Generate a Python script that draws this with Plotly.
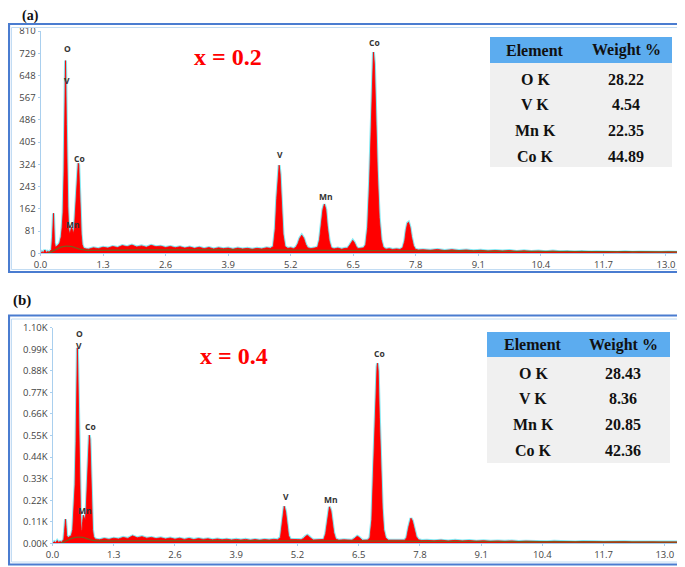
import plotly.graph_objects as go

W, H = 685, 567
PAGE_OFFSET = 8  # the page body margin shifts the figure by this many pixels

# ---------------- data : panel (a)  x = 0.2 ----------------
energy_a = [0.00, 0.03, 0.06, 0.09, 0.12, 0.15, 0.18, 0.21, 0.23, 0.25, 0.26, 0.27, 0.28, 0.29, 0.31, 0.34,
            0.37, 0.40, 0.43, 0.45, 0.47, 0.49, 0.503, 0.512, 0.52, 0.528, 0.538, 0.552, 0.567, 0.585,
            0.605, 0.625, 0.645, 0.665, 0.685, 0.705, 0.725, 0.745, 0.765, 0.785, 0.795, 0.805, 0.825,
            0.845, 0.865, 0.895,
            0.95, 1.0, 1.1, 1.2, 1.3, 1.4, 1.5, 1.6, 1.7, 1.8, 1.9, 2.0, 2.1, 2.2, 2.3, 2.4, 2.5, 2.6, 2.7,
            2.8, 2.9, 3.0, 3.1, 3.2, 3.3, 3.4, 3.5, 3.6, 3.7, 3.8, 3.9, 4.0, 4.1, 4.2, 4.3, 4.4, 4.5, 4.6,
            4.7, 4.78,
            4.84, 4.88, 4.91, 4.94, 4.96, 4.98, 5.01, 5.04, 5.08, 5.14, 5.20, 5.26,
            5.31, 5.35, 5.39, 5.43, 5.47, 5.51, 5.55, 5.62, 5.69,
            5.76, 5.80, 5.84, 5.87, 5.90, 5.93, 5.96, 6.00, 6.04, 6.10, 6.18, 6.26, 6.33,
            6.38, 6.43, 6.47, 6.49, 6.52, 6.56, 6.60, 6.66,
            6.72, 6.76, 6.80, 6.84, 6.87, 6.90, 6.92, 6.94, 6.97, 7.00, 7.04, 7.08, 7.12, 7.18, 7.25,
            7.32, 7.40, 7.47,
            7.53, 7.57, 7.60, 7.63, 7.65, 7.68, 7.71, 7.75, 7.79, 7.85,
            7.95, 8.1, 8.25, 8.4, 8.55, 8.7, 8.85, 9.0, 9.15, 9.3, 9.45, 9.6, 9.75, 9.9, 10.05, 10.2,
            10.35, 10.5, 10.65, 10.8, 10.95, 11.1, 11.25, 11.4, 11.55, 11.7, 11.85, 12.0, 12.15, 12.3,
            12.45, 12.6, 12.75, 12.9, 13.05, 13.25]
counts_a = [0, 6, 2, 12, 3, 7, 4, 9, 14, 60, 125, 146, 95, 40, 22, 26,
            30, 38, 60, 95, 150, 300, 470, 600, 702, 610, 470, 300, 170, 90,
            70, 82, 95, 85, 72, 92, 150, 230, 300, 328, 322, 270, 150,
            70, 32, 18,
            16, 15, 20, 17, 22, 19, 25, 21, 28, 24, 30, 23, 27, 22, 29, 24, 26, 21, 25,
            20, 24, 19, 23, 18, 22, 17, 21, 16, 20, 17, 19, 15, 19, 16, 18, 15, 18, 16,
            20, 18,
            25, 90, 200, 300, 321, 290, 170, 70, 25, 18, 20, 17,
            22, 35, 55, 66, 55, 33, 20, 17, 19,
            22, 50, 110, 160, 179, 160, 100, 45, 20, 16, 19, 15, 18,
            18, 30, 44, 47, 40, 25, 17, 18,
            20, 32, 95, 260, 460, 680, 733, 690, 480, 300, 130, 50, 22, 15, 17,
            14, 16, 14,
            20, 45, 85, 110, 113, 95, 60, 28, 15, 12,
            13, 11, 14, 10, 13, 10, 12, 9, 11, 8, 10, 8, 10, 7, 9, 7,
            8, 6, 8, 6, 7, 5, 7, 5, 6, 5, 6, 4, 6, 4,
            5, 4, 5, 4, 5, 4]
bg_energy_a = [0.15, 0.22, 0.30, 0.38, 0.46, 0.54, 0.62, 0.70, 0.78, 0.86, 0.95, 2.0, 4.0, 6.0, 8.0, 10.0, 13.25]
bg_counts_a = [0, 5, 12, 19, 24, 26, 25, 22, 17, 13, 11, 12, 12, 11, 9, 7, 5]

labels_a = ["O", "V", "Co", "Mn", "V", "Mn", "Co"]
label_e_a = [0.57, 0.55, 0.81, 0.67, 4.98, 5.93, 6.95]
label_c_a = [745, 630, 347, 106, 361, 208, 769]

# ---------------- data : panel (b)  x = 0.4 ----------------
energy_b = [0.00, 0.04, 0.07, 0.10, 0.13, 0.16, 0.19, 0.22, 0.24, 0.255, 0.265, 0.276, 0.29, 0.30, 0.33,
            0.36, 0.40, 0.43, 0.455, 0.48, 0.50, 0.512, 0.52, 0.528, 0.537, 0.55, 0.565, 0.58, 0.595,
            0.61, 0.625, 0.64, 0.655, 0.675, 0.695, 0.715, 0.735, 0.755, 0.77, 0.782, 0.795, 0.81,
            0.83, 0.85, 0.87, 0.90,
            0.95, 1.0, 1.1, 1.2, 1.3, 1.4, 1.5, 1.6, 1.7, 1.8, 1.9, 2.0, 2.1, 2.2, 2.3, 2.4, 2.5, 2.6, 2.7,
            2.8, 2.9, 3.0, 3.1, 3.2, 3.3, 3.4, 3.5, 3.6, 3.7, 3.8, 3.9, 4.0, 4.1, 4.2, 4.3, 4.4, 4.5, 4.6,
            4.7, 4.78,
            4.84, 4.87, 4.90, 4.92, 4.95, 4.98, 5.01, 5.05, 5.12, 5.20,
            5.28, 5.33, 5.37, 5.41, 5.45, 5.49, 5.54, 5.62, 5.70,
            5.76, 5.80, 5.83, 5.86, 5.88, 5.91, 5.94, 5.97, 6.01, 6.08, 6.18, 6.28,
            6.36, 6.41, 6.45, 6.47, 6.50, 6.54, 6.58, 6.64,
            6.70, 6.74, 6.78, 6.81, 6.84, 6.87, 6.89, 6.90, 6.915, 6.94, 6.97, 7.00, 7.03, 7.07, 7.13,
            7.22, 7.32, 7.42,
            7.48, 7.52, 7.56, 7.59, 7.61, 7.64, 7.68, 7.72, 7.77, 7.84,
            7.95, 8.1, 8.25, 8.4, 8.55, 8.7, 8.85, 9.0, 9.15, 9.3, 9.45, 9.6, 9.75, 9.9, 10.05, 10.2,
            10.35, 10.5, 10.65, 10.8, 10.95, 11.1, 11.25, 11.4, 11.55, 11.7, 11.85, 12.0, 12.15, 12.3,
            12.45, 12.6, 12.75, 12.9, 13.05, 13.28]
counts_b = [0, 8, 3, 14, 4, 9, 5, 12, 20, 60, 110, 123, 80, 40, 28,
            32, 40, 70, 160, 300, 520, 780, 950, 997, 900, 700, 480, 280, 140,
            70, 60, 110, 143, 130, 120, 170, 280, 430, 540, 552, 530, 380,
            180, 70, 35, 22,
            20, 18, 24, 20, 26, 22, 30, 25, 38, 28, 34, 26, 30, 24, 28, 22, 27, 21, 26,
            20, 25, 19, 24, 20, 23, 18, 22, 18, 21, 17, 20, 17, 20, 16, 19, 16, 19, 17,
            20, 18,
            30, 80, 150, 189, 160, 90, 40, 20, 18, 19,
            18, 25, 35, 41, 34, 24, 17, 18, 16,
            20, 50, 110, 170, 186, 165, 110, 55, 22, 16, 18, 15,
            16, 24, 33, 36, 32, 22, 15, 16,
            17, 30, 120, 340, 580, 820, 900, 919, 880, 640, 380, 180, 70, 28, 16,
            15, 14, 16,
            16, 30, 80, 118, 128, 115, 75, 35, 18, 14,
            15, 13, 16, 12, 15, 12, 14, 11, 13, 10, 12, 10, 12, 9, 11, 9,
            10, 8, 10, 8, 9, 7, 9, 7, 8, 7, 8, 6, 8, 6,
            7, 6, 7, 6, 7, 6]
bg_energy_b = [0.18, 0.25, 0.33, 0.41, 0.49, 0.57, 0.65, 0.73, 0.81, 0.89, 0.97, 2.0, 4.0, 6.0, 8.0, 10.0, 13.28]
bg_counts_b = [0, 8, 17, 25, 30, 32, 30, 24, 17, 13, 12, 13, 13, 12, 10, 8, 6]

labels_b = ["O", "V", "Co", "Mn", "V", "Mn", "Co"]
label_e_b = [0.58, 0.56, 0.81, 0.69, 4.96, 5.92, 6.94]
label_c_b = [1069, 1008, 595, 165, 240, 223, 970]

# ---------------- tables & ticks ----------------
table_header = ["Element", "Weight %"]
elements = ["O K", "V K", "Mn K", "Co K"]
weight_a = ["28.22", "4.54", "22.35", "44.89"]
weight_b = ["28.43", "8.36", "20.85", "42.36"]

xtick_vals = [0.0, 1.3, 2.6, 3.9, 5.2, 6.5, 7.8, 9.1, 10.4, 11.7, 13.0]
xtick_text = ["0.0", "1.3", "2.6", "3.9", "5.2", "6.5", "7.8", "9.1", "10.4", "11.7", "13.0"]
ytick_vals_a = [0, 81, 162, 243, 324, 405, 486, 567, 648, 729, 810]
ytick_text_a = ["0", "81", "162", "243", "324", "405", "486", "567", "648", "729", "810"]
ytick_vals_b = [0, 110, 220, 330, 440, 550, 660, 770, 880, 990, 1100]
ytick_text_b = ["0.00K", "0.11K", "0.22K", "0.33K", "0.44K", "0.55K", "0.66K", "0.77K", "0.88K", "0.99K", "1.10K"]


# ---------------- styling helpers (screen pixel -> paper fraction) ----------------
def px(x):
    return (x - PAGE_OFFSET) / W


def py(y):
    return 1 - (y - PAGE_OFFSET) / H


RED = "#ff0000"
CYAN = "#86e9f3"
BGLINE = "#7a5c1c"
AXIS = "#a9cfee"
TICKFONT = dict(family="Open Sans", size=9.5, color="#444444")
SERIF = "Liberation Serif"

fig = go.Figure()


def add_panel(e, c, bge, bgc, xa, ya):
    fig.add_trace(go.Scatter(x=e, y=c, mode="lines", line=dict(color=CYAN, width=3),
                             xaxis=xa, yaxis=ya, hoverinfo="skip", showlegend=False))
    fig.add_trace(go.Scatter(x=e, y=c, mode="lines", line=dict(color=RED, width=0.8),
                             fill="tozeroy", fillcolor=RED,
                             xaxis=xa, yaxis=ya, showlegend=False))
    fig.add_trace(go.Scatter(x=bge, y=bgc, mode="lines", line=dict(color=BGLINE, width=1.3, shape="spline"),
                             xaxis=xa, yaxis=ya, hoverinfo="skip", showlegend=False))


add_panel(energy_a, counts_a, bg_energy_a, bg_counts_a, "x", "y")
add_panel(energy_b, counts_b, bg_energy_b, bg_counts_b, "x2", "y2")

axis_common = dict(showline=True, linecolor=AXIS, linewidth=1, ticks="outside", ticklen=2,
                   tickcolor=AXIS, tickfont=TICKFONT, showgrid=False, zeroline=False, fixedrange=True,
                   automargin=False)

fig.update_layout(
    width=W, height=H, margin=dict(l=0, r=0, t=0, b=0, autoexpand=False),
    paper_bgcolor="white", plot_bgcolor="white", showlegend=False,
    xaxis=dict(domain=[px(40.5), px(678)], range=[0, 13.25], tickvals=xtick_vals, ticktext=xtick_text,
               anchor="y", **axis_common),
    yaxis=dict(domain=[py(253.3), py(31)], range=[0, 810], tickvals=ytick_vals_a, ticktext=ytick_text_a,
               anchor="x", **axis_common),
    xaxis2=dict(domain=[px(52.5), px(678)], range=[0, 13.28], tickvals=xtick_vals, ticktext=xtick_text,
                anchor="y2", **axis_common),
    yaxis2=dict(domain=[py(543.3), py(327.7)], range=[0, 1100], tickvals=ytick_vals_b, ticktext=ytick_text_b,
                anchor="x2", **axis_common),
)

shapes = []
annotations = []


def note(x, y, text, font, xref="paper", yref="paper"):
    annotations.append(dict(x=x, y=y, xref=xref, yref=yref, text=text, showarrow=False,
                            xanchor="center", yanchor="middle", font=font))


# frames
for (x0, y0, x1, y1) in [(9, 24, 682, 272), (9, 315.5, 682, 564.5)]:
    shapes.append(dict(type="rect", xref="paper", yref="paper", x0=px(x0), y0=py(y0), x1=px(x1), y1=py(y1),
                       line=dict(color="#4a7cd0", width=2.2), layer="above"))
    shapes.append(dict(type="rect", xref="paper", yref="paper", x0=px(x0 + 2.5), y0=py(y0 + 3.5),
                       x1=px(678), y1=py(y1 - 2.5), line=dict(color="#c2dcf3", width=1), layer="above"))

# peak labels
LABFONT = dict(family="Open Sans", size=8.5, color="#333333", weight="bold")
for lab, le, lc in zip(labels_a, label_e_a, label_c_a):
    note(le, lc, lab, LABFONT, "x", "y")
for lab, le, lc in zip(labels_b, label_e_b, label_c_b):
    note(le, lc, lab, LABFONT, "x2", "y2")

# panel letters and composition
note(px(30), py(16), "<b>(a)</b>", dict(family=SERIF, size=14, color="#111111"))
note(px(22), py(300), "<b>(b)</b>", dict(family=SERIF, size=15, color="#111111"))
note(px(228), py(57), "<b>x = 0.2</b>", dict(family=SERIF, size=24, color=RED))
note(px(234), py(356), "<b>x = 0.4</b>", dict(family=SERIF, size=24, color=RED))

TABFONT = dict(family=SERIF, size=16, color="#111111")


def add_table(x0, x1, hy0, hy1, by1, rows_y, col_x, weights):
    shapes.append(dict(type="rect", xref="paper", yref="paper", x0=px(x0), x1=px(x1), y0=py(hy0), y1=py(hy1),
                       fillcolor="#5cacef", line=dict(width=0), layer="above"))
    shapes.append(dict(type="rect", xref="paper", yref="paper", x0=px(x0), x1=px(x1), y0=py(hy1), y1=py(by1),
                       fillcolor="#f0f0f0", line=dict(width=0), layer="above"))
    hy = (hy0 + hy1) / 2
    for t, cx in zip(table_header, col_x):
        note(px(cx), py(hy), "<b>%s</b>" % t, TABFONT)
    for ry, el, wt in zip(rows_y, elements, weights):
        note(px(col_x[0]), py(ry), "<b>%s</b>" % el, TABFONT)
        note(px(col_x[1]), py(ry), "<b>%s</b>" % wt, TABFONT)


add_table(490, 672, 37, 63, 167, [79, 105, 130, 156], [535, 626], weight_a)
add_table(487, 670, 332, 357, 463, [373, 398, 424, 450], [533, 623], weight_b)

fig.update_layout(shapes=shapes, annotations=annotations)
fig.write_html("out.html")
